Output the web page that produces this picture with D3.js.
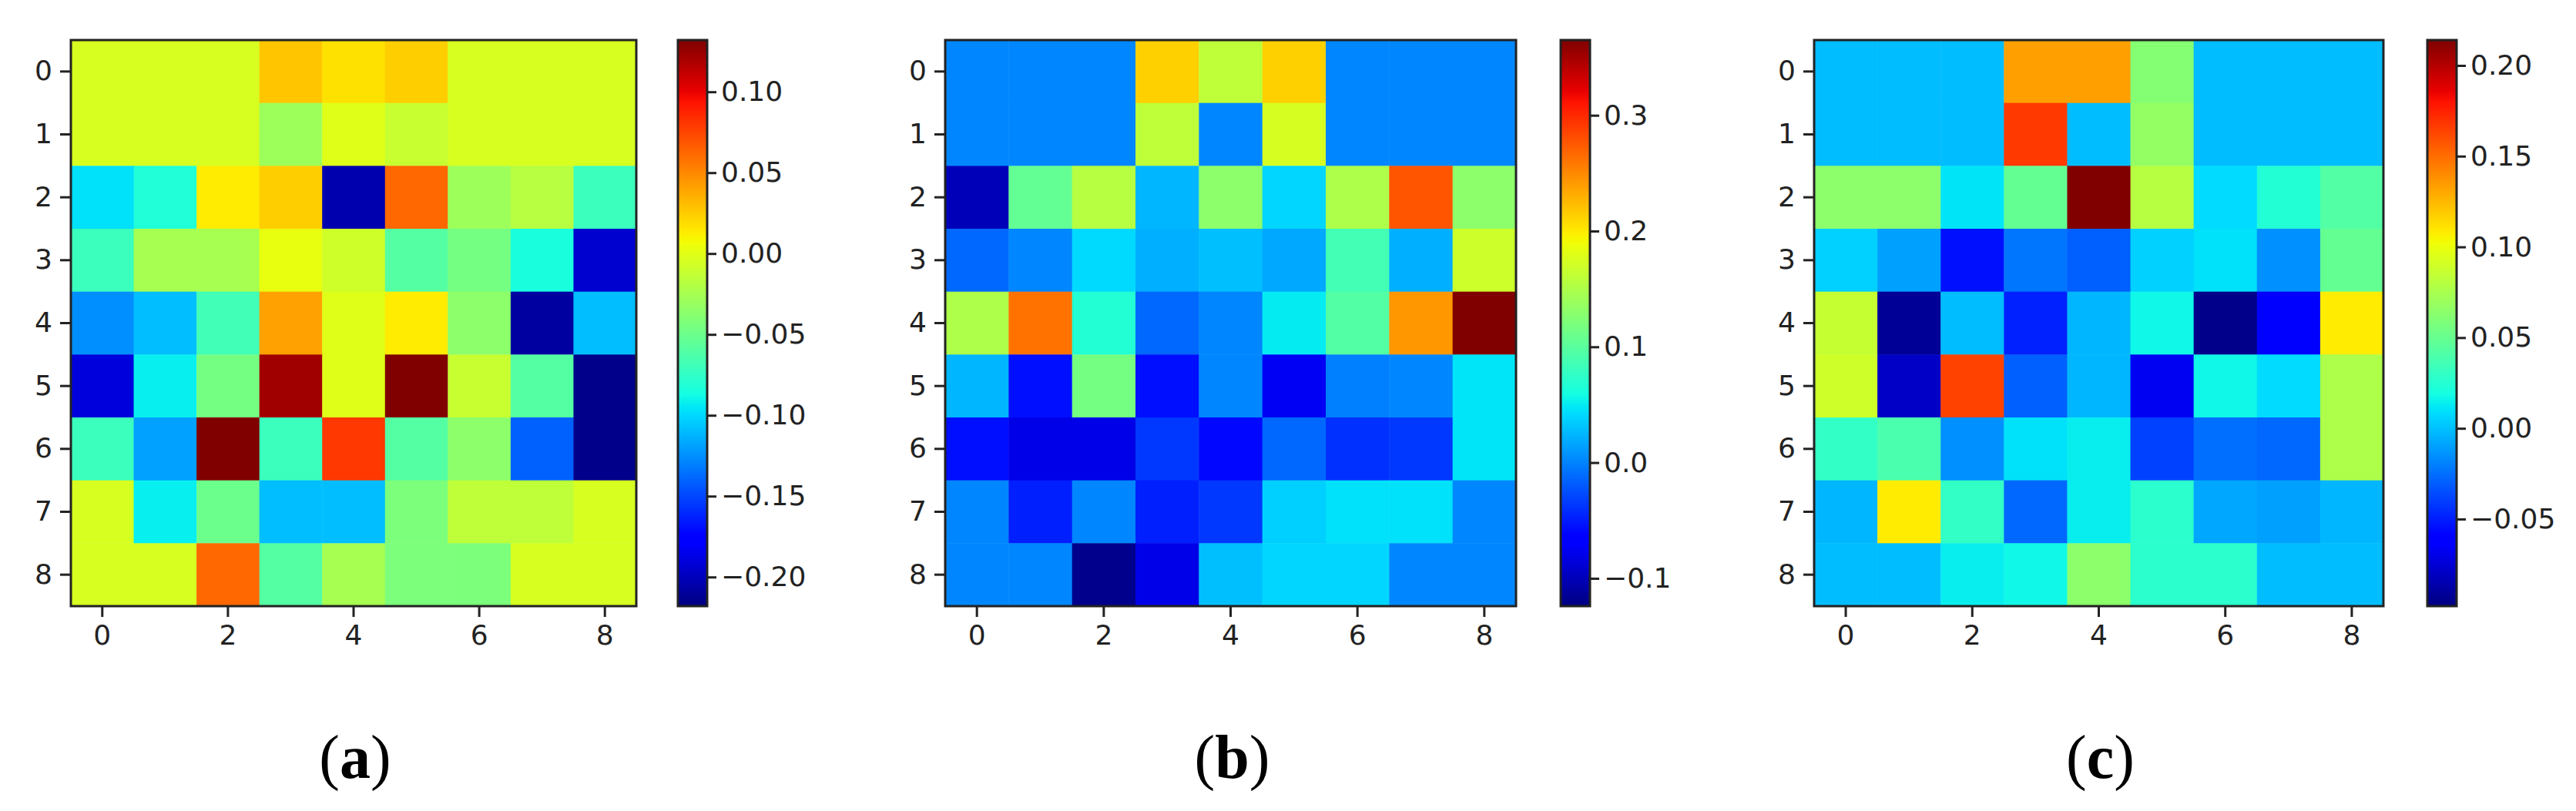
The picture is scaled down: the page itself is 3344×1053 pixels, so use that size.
<!DOCTYPE html>
<html><head><meta charset="utf-8">
<script src="https://cdn.jsdelivr.net/npm/d3@7"></script>
<style>body{margin:0;background:#fff}svg text{font-family:"DejaVu Sans",sans-serif}</style>
</head><body><svg id="c" width="3344" height="1053"></svg>
<script>
/* Three 9x9 jet heatmaps with colorbars. */
const rows = d3.range(9), cols = d3.range(9);

const gridA = [
  [-0.004,-0.004,-0.004,0.027,0.017,0.024,-0.004,-0.004,-0.004],
  [-0.004,-0.004,-0.004,-0.029,-0.001,-0.011,-0.004,-0.004,-0.004],
  [-0.097,-0.082,0.013,0.024,-0.204,0.062,-0.029,-0.018,-0.071],
  [-0.071,-0.025,-0.025,0.003,-0.008,-0.060,-0.046,-0.085,-0.194],
  [-0.125,-0.109,-0.068,0.041,-0.001,0.013,-0.036,-0.208,-0.109],
  [-0.190,-0.092,-0.046,0.122,-0.001,0.132,-0.011,-0.060,-0.215],
  [-0.071,-0.119,0.132,-0.071,0.080,-0.060,-0.036,-0.141,-0.215],
  [-0.004,-0.092,-0.050,-0.109,-0.109,-0.043,-0.015,-0.015,-0.004],
  [-0.004,-0.004,0.062,-0.060,-0.025,-0.043,-0.043,-0.004,-0.004]
];
const gridB = [
  [0.002,0.002,0.002,0.213,0.160,0.213,0.002,0.002,0.002],
  [0.002,0.002,0.002,0.160,0.002,0.174,0.002,0.002,0.002],
  [-0.100,0.106,0.155,0.025,0.130,0.040,0.150,0.277,0.130],
  [-0.013,0.002,0.042,0.021,0.029,0.018,0.086,0.021,0.169],
  [0.150,0.262,0.067,-0.013,0.002,0.050,0.096,0.243,0.365],
  [0.025,-0.056,0.116,-0.056,0.002,-0.075,-0.002,0.002,0.047],
  [-0.056,-0.080,-0.080,-0.036,-0.060,-0.013,-0.040,-0.036,0.047],
  [0.002,-0.048,0.002,-0.048,-0.036,0.037,0.045,0.045,0.002],
  [0.002,0.002,-0.119,-0.080,0.029,0.040,0.040,0.002,0.002]
];
const gridC = [
  [-0.001,-0.001,-0.001,0.133,0.133,0.061,-0.001,-0.001,-0.001],
  [-0.001,-0.001,-0.001,0.167,-0.001,0.067,-0.001,-0.001,-0.001],
  [0.064,0.064,0.011,0.049,0.214,0.080,0.008,0.024,0.042],
  [0.005,-0.010,-0.054,-0.023,-0.030,0.005,0.010,-0.015,0.049],
  [0.086,-0.092,-0.001,-0.049,-0.003,0.017,-0.095,-0.064,0.108],
  [0.089,-0.079,0.164,-0.030,-0.003,-0.067,0.017,0.008,0.077],
  [0.030,0.039,-0.015,0.010,0.014,-0.039,-0.025,-0.027,0.077],
  [-0.003,0.108,0.030,-0.027,0.014,0.027,-0.008,-0.010,-0.003],
  [-0.001,-0.001,0.014,0.017,0.064,0.027,0.027,-0.001,-0.001]
];
const rangeA = [-0.218, 0.132], rangeB = [-0.124, 0.365], rangeC = [-0.098, 0.214];
const ticksA = [-0.20,-0.15,-0.10,-0.05,0.00,0.05,0.10];
const ticksB = [-0.1,0.0,0.1,0.2,0.3];
const ticksC = [-0.05,0.00,0.05,0.10,0.15,0.20];
const axisTicks = [0, 2, 4, 6, 8];
const labels = ["a", "b", "c"];

// matplotlib "jet" as piecewise stops
const jetT = [0, 0.11, 0.125, 0.34, 0.35, 0.375, 0.64, 0.65, 0.66, 0.89, 0.91, 1];
const jetC = jetT.map(t => {
  const seg = (pts) => { for (let i = 1; i < pts.length; i++) if (t <= pts[i][0]) {
    const [a, va] = pts[i-1], [b, vb] = pts[i]; return va + (vb - va) * (t - a) / (b - a); } return pts[pts.length-1][1]; };
  const r = seg([[0,0],[0.35,0],[0.66,1],[0.89,1],[1,0.5]]);
  const g = seg([[0,0],[0.125,0],[0.375,1],[0.64,1],[0.91,0],[1,0]]);
  const b = seg([[0,0.5],[0.11,1],[0.34,1],[0.65,0],[1,0]]);
  return d3.rgb(r*255, g*255, b*255).formatHex();
});

const panels = [
  {grid: gridA, range: rangeA, ticks: ticksA, fmt: ".2f", x0: 92, w: 734, cb: 880},
  {grid: gridB, range: rangeB, ticks: ticksB, fmt: ".1f", x0: 1227, w: 741, cb: 2026},
  {grid: gridC, range: rangeC, ticks: ticksC, fmt: ".2f", x0: 2355, w: 739, cb: 3151}
];
const plotTop = 52, h = 735, cbW = 38;
const svg = d3.select("#c");
const defs = svg.append("defs");
const minus = s => s.replace("-", "\u2212");

panels.forEach((p, i) => {
  const color = d3.scaleLinear().domain(jetT.map(t => p.range[0] + t * (p.range[1] - p.range[0]))).range(jetC).clamp(true);
  const x = d3.scaleBand().domain(cols).range([p.x0, p.x0 + p.w]);
  const y = d3.scaleBand().domain(rows).range([plotTop, plotTop + h]);
  const g = svg.append("g");
  rows.forEach(r => cols.forEach(c => {
    g.append("rect").attr("x", x(c)).attr("y", y(r))
      .attr("width", x.bandwidth() + 0.5).attr("height", y.bandwidth() + 0.5)
      .attr("fill", color(p.grid[r][c]));
  }));
  g.append("rect").attr("x", p.x0).attr("y", plotTop).attr("width", p.w).attr("height", h)
    .attr("fill", "none").attr("stroke", "#222").attr("stroke-width", 3);

  const xa = g.append("g").attr("transform", `translate(0,${plotTop + h})`)
    .call(d3.axisBottom(x).tickValues(axisTicks).tickSize(14).tickPadding(10));
  const ya = g.append("g").attr("transform", `translate(${p.x0},0)`)
    .call(d3.axisLeft(y).tickValues(rows).tickSize(14).tickPadding(10));
  [xa, ya].forEach(a => {
    a.select(".domain").remove();
    a.selectAll("line").attr("stroke", "#222").attr("stroke-width", 3);
    a.selectAll("text").attr("font-size", 36).attr("fill", "#222");
  });

  // colorbar
  const gid = "grad" + i;
  const grad = defs.append("linearGradient").attr("id", gid).attr("x1", 0).attr("y1", 1).attr("x2", 0).attr("y2", 0);
  jetT.forEach((t, k) => grad.append("stop").attr("offset", t).attr("stop-color", jetC[k]));
  g.append("rect").attr("x", p.cb).attr("y", plotTop).attr("width", cbW).attr("height", h)
    .attr("fill", `url(#${gid})`).attr("stroke", "#222").attr("stroke-width", 3);
  const cy = d3.scaleLinear().domain(p.range).range([plotTop + h, plotTop]);
  const ca = g.append("g").attr("transform", `translate(${p.cb + cbW},0)`)
    .call(d3.axisRight(cy).tickValues(p.ticks).tickSize(12).tickPadding(6)
      .tickFormat(v => minus(d3.format(p.fmt)(v))));
  ca.select(".domain").remove();
  ca.selectAll("line").attr("stroke", "#222").attr("stroke-width", 3);
  ca.selectAll("text").attr("font-size", 36).attr("fill", "#222");

  const lab = svg.append("text").attr("x", p.x0 + p.w / 2 + 2).attr("y", 1010).attr("text-anchor", "middle")
    .style("font-family", "'Liberation Serif', serif").attr("font-size", 80);
  lab.append("tspan").text("(");
  lab.append("tspan").attr("font-weight", "bold").text(labels[i]);
  lab.append("tspan").text(")");
});
</script></body></html>
